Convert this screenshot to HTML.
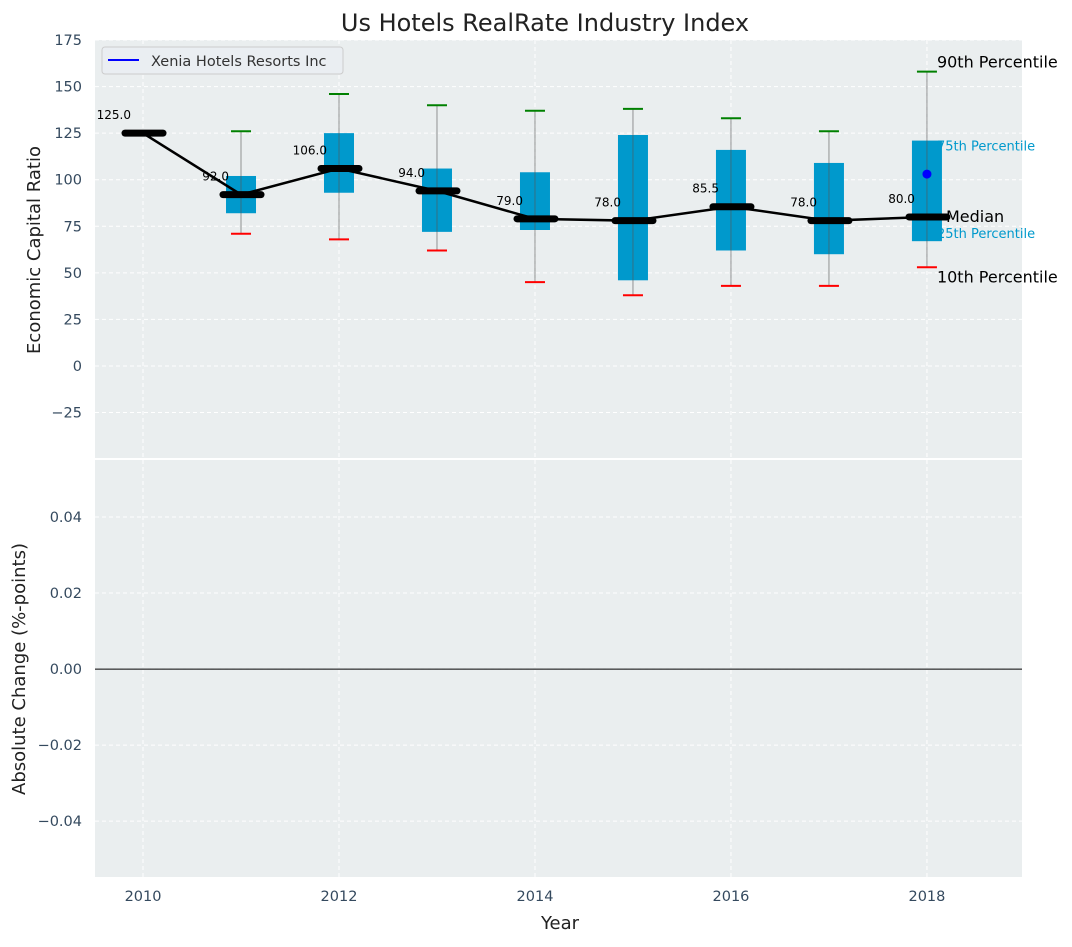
<!DOCTYPE html>
<html><head><meta charset="utf-8"><style>
body{margin:0;background:#fff;}
svg{font-family:"DejaVu Sans","Liberation Sans",sans-serif;}
</style></head><body>
<svg id="chart" width="1072" height="942" xmlns="http://www.w3.org/2000/svg"></svg>
<script>
const years=[2010,2011,2012,2013,2014,2015,2016,2017,2018];
const medians=[125,92,106,94,79,78,85.5,78,80];
const p10=[null,71,68,62,45,38,43,43,53];
const q1=[null,82,93,72,73,46,62,60,67];
const q3=[null,102,125,106,104,124,116,109,121];
const p90=[null,126,146,140,137,138,133,126,158];
const companyYears=[2018];
const companyValues=[103];
const yTicksTop=[-25,0,25,50,75,100,125,150,175];
const yTicksBot=[-0.04,-0.02,0,0.02,0.04];
const xTicks=[2010,2012,2014,2016,2018];

const NS="http://www.w3.org/2000/svg";
const svg=document.getElementById('chart');
const L=95,R=1022,T1=40,B1=458,T2=460,B2=877;
const X=v=>L+(v-2009.51)/(2018.97-2009.51)*(R-L);
const Y1=v=>B1-(v+49.4)/(175+49.4)*(B1-T1);
const Y2=v=>B2-(v+0.0547)/(0.1097)*(B2-T2);
function el(t,a,txt){const e=document.createElementNS(NS,t);for(const k in a)e.setAttribute(k,a[k]);if(txt!==undefined)e.textContent=txt;svg.appendChild(e);return e;}

let e;
e=el('rect',{x:L,y:T1,width:R-L,height:B1-T1,fill:'#eaeeef'});

e=el('rect',{x:L,y:T2,width:R-L,height:B2-T2,fill:'#eaeeef'});

xTicks.forEach(v=>{
 e=el('line',{x1:X(v),x2:X(v),y1:T1,y2:B1,stroke:'#fff','stroke-dasharray':'4,3','stroke-width':1});
 
 e=el('line',{x1:X(v),x2:X(v),y1:T2,y2:B2,stroke:'#fff','stroke-dasharray':'4,3','stroke-width':1});
 
 e=el('text',{x:X(v),y:B2+24,'text-anchor':'middle','font-size':14.5,fill:'#34495e'},String(v));
 
});
yTicksTop.forEach(v=>{
 e=el('line',{x1:L,x2:R,y1:Y1(v),y2:Y1(v),stroke:'#fff','stroke-dasharray':'4,3','stroke-width':1});
 
 e=el('text',{x:82,y:Y1(v)+5,'text-anchor':'end','font-size':14.5,fill:'#34495e'},v<0?'\u2212'+(-v):String(v));
 
});
yTicksBot.forEach(v=>{
 e=el('line',{x1:L,x2:R,y1:Y2(v),y2:Y2(v),stroke:'#fff','stroke-dasharray':'4,3','stroke-width':1});
 
 e=el('text',{x:82,y:Y2(v)+5,'text-anchor':'end','font-size':14.5,fill:'#34495e'},(v<0?'\u2212':'')+Math.abs(v).toFixed(2));
 
});
e=el('line',{x1:L,x2:R,y1:Y2(0),y2:Y2(0),stroke:'#000','stroke-width':1});

// annotations (drawn under boxes as in reference)
const lx=X(2018), li=8;
e=el('text',{x:lx+10,y:Y1(p90[li])-4,'font-size':16,fill:'#000'},'90th Percentile');

e=el('text',{x:lx+10,y:Y1(q3[li])+10,'font-size':13,fill:'#0099cc'},'75th Percentile');

e=el('text',{x:lx+10,y:Y1(q1[li])-3,'font-size':13,fill:'#0099cc'},'25th Percentile');

years.forEach((yr,i)=>{
 const x=X(yr);
 if(p10[i]!==null){
  e=el('rect',{x:x-15,y:Y1(q3[i]),width:30,height:Y1(q1[i])-Y1(q3[i]),fill:'#0099cc'});
  
  e=el('line',{x1:x,x2:x,y1:Y1(p10[i]),y2:Y1(p90[i]),stroke:'#555','stroke-width':1,opacity:0.6});
  
  e=el('line',{x1:x-10,x2:x+10,y1:Y1(p90[i]),y2:Y1(p90[i]),stroke:'green','stroke-width':2});
  
  e=el('line',{x1:x-10,x2:x+10,y1:Y1(p10[i]),y2:Y1(p10[i]),stroke:'red','stroke-width':2});
  
 }
});
e=el('polyline',{points:years.map((y,i)=>X(y)+','+Y1(medians[i])).join(' '),fill:'none',stroke:'#000','stroke-width':2.5});

years.forEach((yr,i)=>{
 const x=X(yr),y=Y1(medians[i]);
 e=el('line',{x1:x-18,x2:x+20,y1:y,y2:y,stroke:'#000','stroke-width':7,'stroke-linecap':'round'});
 
 e=el('text',{x:x-12,y:y-14,'text-anchor':'end','font-size':12,fill:'#000'},medians[i].toFixed(1));
 
});
companyYears.forEach((yr,i)=>{
 e=el('circle',{cx:X(yr),cy:Y1(companyValues[i]),r:4.5,fill:'#0000ff'});
 
});
e=el('text',{x:lx+19,y:Y1(medians[li])+5,'font-size':16,fill:'#000'},'Median');

e=el('text',{x:lx+10,y:Y1(p10[li])+15,'font-size':16,fill:'#000'},'10th Percentile');

// legend
e=el('rect',{x:102,y:47,width:241,height:27,rx:3,fill:'#eaeef2',stroke:'#ccc'});

e=el('line',{x1:108,x2:139,y1:60,y2:60,stroke:'#0000ff','stroke-width':2});

e=el('text',{x:151,y:66,'font-size':14.5,fill:'#333'},'Xenia Hotels Resorts Inc');

// titles
e=el('text',{x:545,y:31,'text-anchor':'middle','font-size':24,fill:'#222'},'Us Hotels RealRate Industry Index');

e=el('text',{x:560,y:929,'text-anchor':'middle','font-size':18,fill:'#222'},'Year');

e=el('text',{x:40,y:250,'text-anchor':'middle','font-size':18,fill:'#222',transform:'rotate(-90 40 250)'},'Economic Capital Ratio');

e=el('text',{x:25,y:669,'text-anchor':'middle','font-size':18,fill:'#222',transform:'rotate(-90 25 669)'},'Absolute Change (%-points)');

</script>
</body></html>
